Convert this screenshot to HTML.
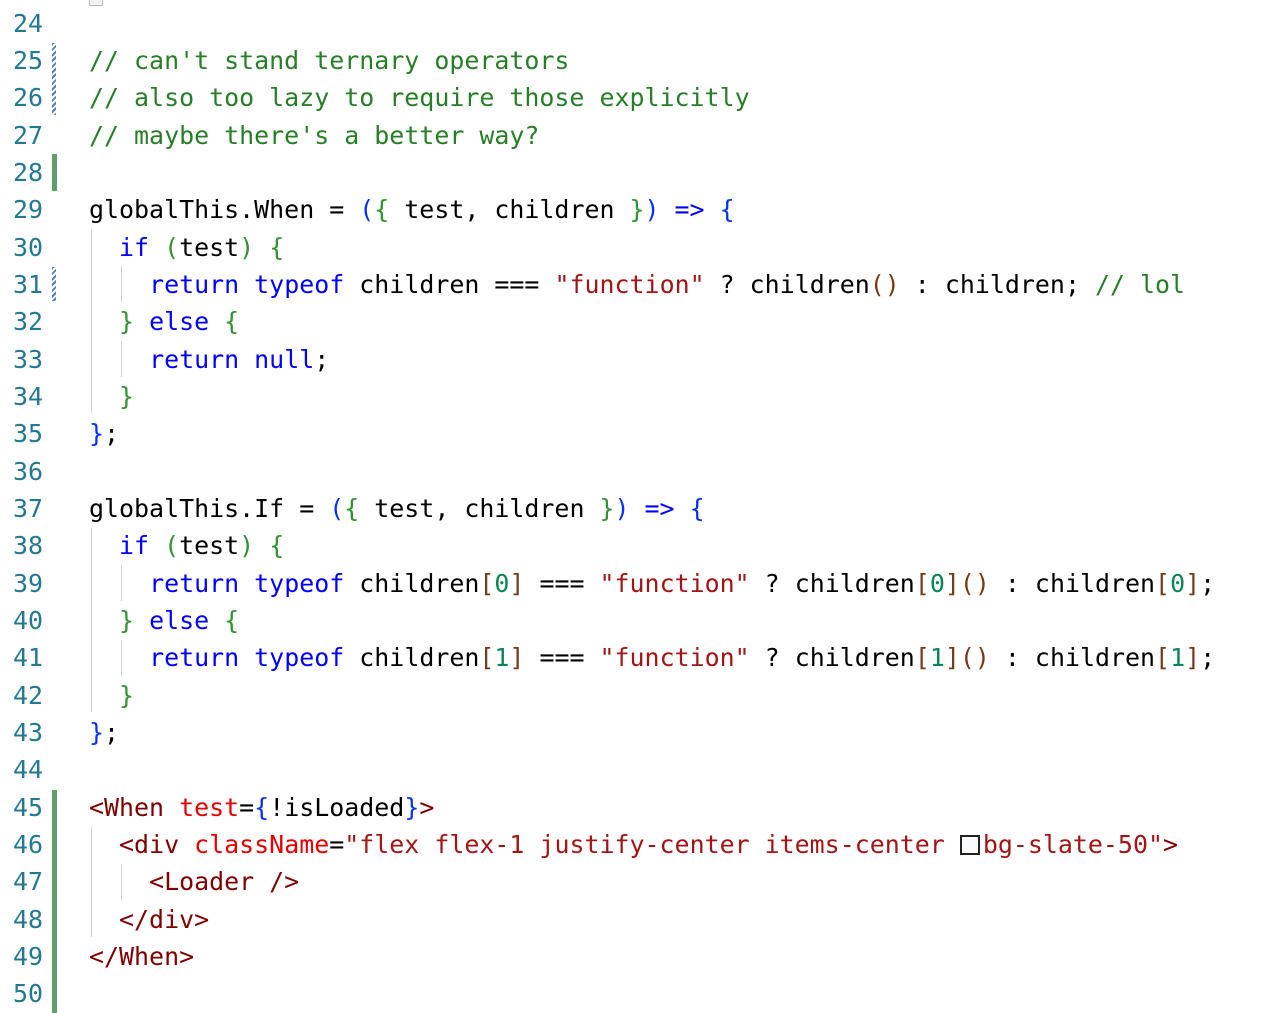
<!DOCTYPE html>
<html><head><meta charset="utf-8"><style>
html,body{margin:0;padding:0;background:#fff;width:1280px;height:1013px;overflow:hidden;position:relative}
.ln,.code{position:absolute;top:4.5px;font-family:"DejaVu Sans Mono","Liberation Mono",monospace;font-size:24.95px;line-height:37.35px;white-space:pre}
.ln{left:0;width:43px;text-align:right;color:#237893}
.code{left:89px;color:#000}
.c{color:#267f26}.k{color:#0000ff}.s{color:#a31515}.t{color:#800000}.a{color:#e50000}
.b1{color:#0431fa}.b2{color:#319331}.b3{color:#7b3814}.n{color:#098658}
.bar{position:absolute;left:52px;width:5px;background:#5f9f69}
.hatch{position:absolute;left:52px;width:4px;background:repeating-linear-gradient(135deg,#4d7fc1 0 2px,#fff 2px 4px)}
.g{position:absolute;width:1px;background:#d3d3d3}
.sq{display:inline-block;width:20px;height:20px;border:2px solid #222;box-sizing:border-box;vertical-align:-2px;margin-right:3px;background:#f8fafc}
</style></head><body>
<div style="position:absolute;left:89px;top:-8px;width:12px;height:12px;border:1px solid #bbb;background:#f2f2f2"></div>
<div class="hatch" style="top:43px;height:72px"></div>
<div class="hatch" style="top:267px;height:34px"></div>
<div class="bar" style="top:154px;height:37px"></div>
<div class="bar" style="top:790px;height:223px"></div>
<div class="g" style="left:91px;top:229px;height:184px"></div>
<div class="g" style="left:121px;top:266px;height:36px"></div>
<div class="g" style="left:121px;top:341px;height:36px"></div>
<div class="g" style="left:91px;top:528px;height:184px"></div>
<div class="g" style="left:121px;top:565px;height:36px"></div>
<div class="g" style="left:121px;top:640px;height:36px"></div>
<div class="g" style="left:91px;top:827px;height:110px"></div>
<div class="g" style="left:121px;top:864px;height:36px"></div>
<div class="ln">24
25
26
27
28
29
30
31
32
33
34
35
36
37
38
39
40
41
42
43
44
45
46
47
48
49
50</div>
<div class="code">
<span class="c">// can't stand ternary operators</span>
<span class="c">// also too lazy to require those explicitly</span>
<span class="c">// maybe there's a better way?</span>

globalThis.When = <span class="b1">(</span><span class="b2">{</span> test, children <span class="b2">}</span><span class="b1">)</span> <span class="k">=&gt;</span> <span class="b1">{</span>
  <span class="k">if</span> <span class="b2">(</span>test<span class="b2">)</span> <span class="b2">{</span>
    <span class="k">return</span> <span class="k">typeof</span> children === <span class="s">"function"</span> ? children<span class="b3">()</span> : children; <span class="c">// lol</span>
  <span class="b2">}</span> <span class="k">else</span> <span class="b2">{</span>
    <span class="k">return</span> <span class="k">null</span>;
  <span class="b2">}</span>
<span class="b1">}</span>;

globalThis.If = <span class="b1">(</span><span class="b2">{</span> test, children <span class="b2">}</span><span class="b1">)</span> <span class="k">=&gt;</span> <span class="b1">{</span>
  <span class="k">if</span> <span class="b2">(</span>test<span class="b2">)</span> <span class="b2">{</span>
    <span class="k">return</span> <span class="k">typeof</span> children<span class="b3">[</span><span class="n">0</span><span class="b3">]</span> === <span class="s">"function"</span> ? children<span class="b3">[</span><span class="n">0</span><span class="b3">]()</span> : children<span class="b3">[</span><span class="n">0</span><span class="b3">]</span>;
  <span class="b2">}</span> <span class="k">else</span> <span class="b2">{</span>
    <span class="k">return</span> <span class="k">typeof</span> children<span class="b3">[</span><span class="n">1</span><span class="b3">]</span> === <span class="s">"function"</span> ? children<span class="b3">[</span><span class="n">1</span><span class="b3">]()</span> : children<span class="b3">[</span><span class="n">1</span><span class="b3">]</span>;
  <span class="b2">}</span>
<span class="b1">}</span>;

<span class="t">&lt;When</span> <span class="a">test</span>=<span class="b1">{</span>!isLoaded<span class="b1">}</span><span class="t">&gt;</span>
  <span class="t">&lt;div</span> <span class="a">className</span>=<span class="s">"flex flex-1 justify-center items-center <span class="sq"></span>bg-slate-50"</span><span class="t">&gt;</span>
    <span class="t">&lt;Loader /&gt;</span>
  <span class="t">&lt;/div&gt;</span>
<span class="t">&lt;/When&gt;</span>
</div>
</body></html>
